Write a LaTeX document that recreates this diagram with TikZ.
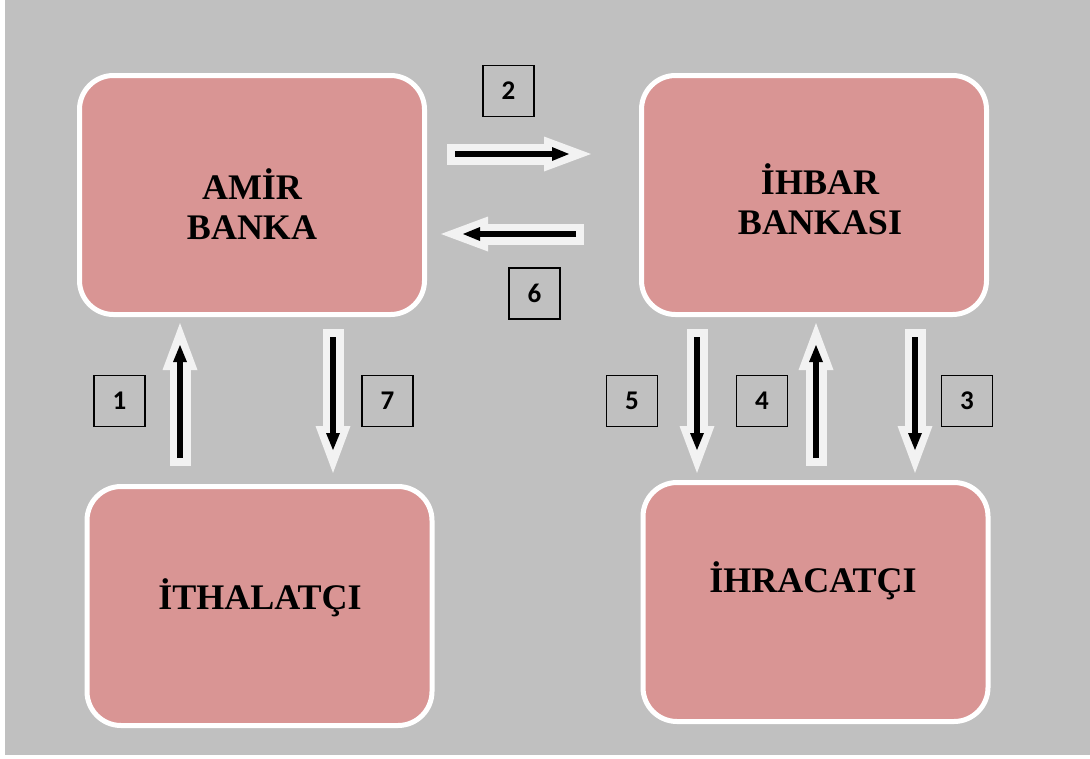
\documentclass[tikz,border=0pt]{standalone}
\usepackage{fontspec}
\setmainfont{Liberation Serif}
\newfontfamily\numfont{Carlito}
\usetikzlibrary{arrows.meta}
\definecolor{bggray}{HTML}{C0C0C0}
\definecolor{boxpink}{HTML}{D99594}
\definecolor{arrowfill}{HTML}{F2F2F2}
\tikzset{
  party/.style={rectangle, rounded corners=34pt, fill=boxpink, draw=white, line width=5pt,
    minimum width=345pt, minimum height=239pt, inner sep=0pt},
  partytext/.style={font=\fontsize{36}{40}\selectfont\bfseries, align=center, inner sep=0pt},
  numbox/.style={rectangle, draw=black, line width=1.4pt, fill=bggray, minimum size=51pt,
    inner sep=0pt, font=\numfont\bfseries\fontsize{27}{27}\selectfont},
  bigarrow/.style={draw=arrowfill, line width=21pt,
    -{Triangle[length=47pt,width=35pt,line width=0pt]}},
  inarrow/.style={draw=black, line width=6pt,
    -{Triangle[length=17pt,width=14pt,line width=0pt]}}
}
\begin{document}
\begin{tikzpicture}[x=1pt,y=-1pt]
\useasboundingbox (0,0) rectangle (1090,758);
\fill[white] (0,0) rectangle (1090,758);
\fill[bggray] (5,0) rectangle (1090,755);

% main boxes
\node[party] (amir) at (252,195) {};
\node[partytext] (amirt) at (252,204) {AMİR\\BANKA};
\node[party] (ihbar) at (814,195) {};
\node[partytext] (ihbart) at (820,199) {İHBAR\\BANKASI};
\node[party] (ithal) at (259.5,606) {};
\node[partytext] (ithalt) at (260,598) {İTHALATÇI};
\node[party] (ihrac) at (815.5,602) {};
\node[partytext] (ihract) at (813,581) {İHRACATÇI};

% number boxes
\node[numbox] (n2) at (508.5,91) {2};
\node[numbox] (n6) at (534.5,293.5) {6};
\node[numbox] (n1) at (119.5,401) {1};
\node[numbox] (n7) at (387.5,401) {7};
\node[numbox] (n5) at (632,401) {5};
\node[numbox] (n4) at (762,401) {4};
\node[numbox] (n3) at (967,401) {3};

% arrow end points
\coordinate (a2s) at (447,154);  \coordinate (a2e) at (591,154);
\coordinate (b2s) at (455,154);  \coordinate (b2e) at (569,154);
\coordinate (a6s) at (584,234);  \coordinate (a6e) at (441,234);
\coordinate (b6s) at (576,234);  \coordinate (b6e) at (463,234);
\coordinate (a1s) at (180,466);  \coordinate (a1e) at (180,323);
\coordinate (b1s) at (180,458);  \coordinate (b1e) at (180,345);
\coordinate (a7s) at (333,329);  \coordinate (a7e) at (333,473);
\coordinate (b7s) at (333,337);  \coordinate (b7e) at (333,450);
\coordinate (a5s) at (697,329);  \coordinate (a5e) at (697,473);
\coordinate (b5s) at (697,337);  \coordinate (b5e) at (697,450);
\coordinate (a4s) at (816,466);  \coordinate (a4e) at (816,323);
\coordinate (b4s) at (816,458);  \coordinate (b4e) at (816,345);
\coordinate (a3s) at (915,329);  \coordinate (a3e) at (915,473);
\coordinate (b3s) at (915,337);  \coordinate (b3e) at (915,450);

\foreach \k in {2,6,1,7,5,4,3}{
  \draw[bigarrow] (a\k s) -- (a\k e);
  \draw[inarrow] (b\k s) -- (b\k e);
}
\end{tikzpicture}
\end{document}
